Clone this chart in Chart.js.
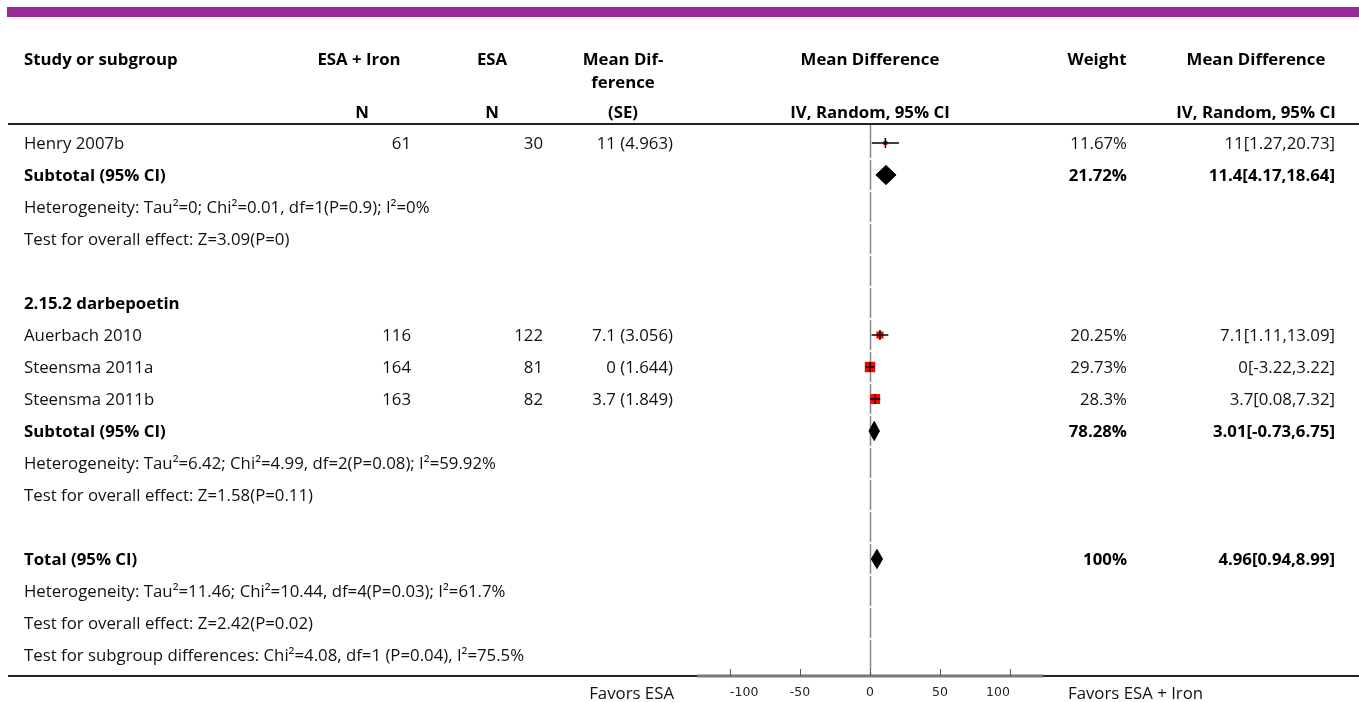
<!DOCTYPE html>
<html><head><meta charset="utf-8">
<script src="https://cdn.jsdelivr.net/npm/chart.js@4.4.1/dist/chart.umd.min.js"></script>
<style>
html,body{margin:0;padding:0;background:#fff;overflow:hidden;}
#wrap{position:relative;width:1359px;height:702px;overflow:hidden;background:#fff;}
#c{position:absolute;left:0;top:0;}
.t{position:absolute;font-family:"Open Sans","Noto Sans",sans-serif;font-size:16.8px;color:#111;white-space:nowrap;line-height:22px;height:22px;}
.b{font-weight:bold;color:#000;}
.r{text-align:right;}
.cx{text-align:center;}
</style></head><body>
<div id="wrap"><canvas id="c" width="1359" height="709"></canvas></div>
<script>
// ---------- DATA ----------
const rowLabels = [
  "Henry 2007b",
  "Subtotal (95% CI)",
  "Heterogeneity: Tau\u00b2=0; Chi\u00b2=0.01, df=1(P=0.9); I\u00b2=0%",
  "Test for overall effect: Z=3.09(P=0)",
  "",
  "2.15.2 darbepoetin",
  "Auerbach 2010",
  "Steensma 2011a",
  "Steensma 2011b",
  "Subtotal (95% CI)",
  "Heterogeneity: Tau\u00b2=6.42; Chi\u00b2=4.99, df=2(P=0.08); I\u00b2=59.92%",
  "Test for overall effect: Z=1.58(P=0.11)",
  "",
  "Total (95% CI)",
  "Heterogeneity: Tau\u00b2=11.46; Chi\u00b2=10.44, df=4(P=0.03); I\u00b2=61.7%",
  "Test for overall effect: Z=2.42(P=0.02)",
  "Test for subgroup differences: Chi\u00b2=4.08, df=1 (P=0.04), I\u00b2=75.5%"
];
const boldRows = [1, 5, 9, 13];

const studyRows   = [0, 6, 7, 8];
const studyNExp   = [61, 116, 164, 163];
const studyNCtl   = [30, 122, 81, 82];
const studyMD     = [11, 7.1, 0, 3.7];
const studySE     = [4.963, 3.056, 1.644, 1.849];
const studyLo     = [1.27, 1.11, -3.22, 0.08];
const studyHi     = [20.73, 13.09, 3.22, 7.32];
const studyWeight = [11.67, 20.25, 29.73, 28.3];

const pooledRows   = [1, 9, 13];
const pooledMD     = [11.4, 3.01, 4.96];
const pooledLo     = [4.17, -0.73, 0.94];
const pooledHi     = [18.64, 6.75, 8.99];
const pooledWeight = [21.72, 78.28, 100];

const xTicks = [-100, -50, 0, 50, 100];
const xMin = -123.6, xMax = 123.6;

// ---------- LAYOUT CONSTANTS ----------
const ROW0 = 143, ROWH = 32;
const wrap = document.getElementById('wrap');
function addText(txt, x, yc, cls, align) {
  const d = document.createElement('div');
  d.className = 't ' + (cls || '');
  d.textContent = txt;
  d.style.top = (yc - 11) + 'px';
  if (align === 'r') { d.style.left = (x - 400) + 'px'; d.style.width = '400px'; d.classList.add('r'); }
  else if (align === 'c') { d.style.left = (x - 200) + 'px'; d.style.width = '400px'; d.classList.add('cx'); }
  else { d.style.left = x + 'px'; }
  wrap.appendChild(d);
}
// headers
addText("Study or subgroup", 24, 59, 'b');
addText("ESA + Iron", 359, 59, 'b', 'c');
addText("N", 362, 112, 'b', 'c');
addText("ESA", 492, 59, 'b', 'c');
addText("N", 492, 112, 'b', 'c');
addText("Mean Dif-", 623, 59, 'b', 'c');
addText("ference", 623, 82, 'b', 'c');
addText("(SE)", 623, 112, 'b', 'c');
addText("Mean Difference", 870, 59, 'b', 'c');
addText("IV, Random, 95% CI", 870, 112, 'b', 'c');
addText("Weight", 1097, 59, 'b', 'c');
addText("Mean Difference", 1256, 59, 'b', 'c');
addText("IV, Random, 95% CI", 1256, 112, 'b', 'c');
// rows
rowLabels.forEach((s, i) => { if (s) addText(s, 24, ROW0 + ROWH * i, boldRows.includes(i) ? 'b' : ''); });
studyRows.forEach((r, k) => {
  const y = ROW0 + ROWH * r;
  addText(String(studyNExp[k]), 411, y, '', 'r');
  addText(String(studyNCtl[k]), 543, y, '', 'r');
  addText(studyMD[k] + " (" + studySE[k] + ")", 673, y, '', 'r');
  addText(studyWeight[k] + "%", 1127, y, '', 'r');
  addText(studyMD[k] + "[" + studyLo[k] + "," + studyHi[k] + "]", 1335, y, '', 'r');
});
pooledRows.forEach((r, k) => {
  const y = ROW0 + ROWH * r;
  addText(pooledWeight[k] + "%", 1127, y, 'b', 'r');
  addText(pooledMD[k] + "[" + pooledLo[k] + "," + pooledHi[k] + "]", 1335, y, 'b', 'r');
});
addText("Favors ESA", 674, 693, '', 'r');
addText("Favors ESA + Iron", 1068, 693, '');

// ---------- CHART ----------
const DIAMOND_HALF = 0.30; // rows
const datasets = [];
datasets.push({
  type: 'scatter', label: 'studies',
  data: studyRows.map((r, k) => ({ x: studyMD[k], y: r })),
  pointStyle: 'rect',
  pointRadius: studyWeight.map(w => (w * 0.35) / Math.SQRT2),
  backgroundColor: '#ff0000', borderWidth: 0, order: 3
});
studyRows.forEach((r, k) => {
  datasets.push({
    type: 'line', label: 'ci' + k,
    data: [{ x: studyLo[k], y: r }, { x: studyHi[k], y: r }],
    borderColor: '#000', borderWidth: 1.5, pointRadius: 0, fill: false, order: 2
  });
});
datasets.push({
  type: 'scatter', label: 'ticks',
  data: studyRows.map((r, k) => ({ x: studyMD[k], y: r })),
  pointStyle: 'line', rotation: 90, pointRadius: 5,
  borderColor: '#000', borderWidth: 1.5, order: 1
});
pooledRows.forEach((r, k) => {
  datasets.push({
    type: 'line', label: 'pooled' + k,
    data: [
      { x: pooledLo[k], y: r }, { x: pooledMD[k], y: r - DIAMOND_HALF },
      { x: pooledHi[k], y: r }, { x: pooledMD[k], y: r + DIAMOND_HALF },
      { x: pooledLo[k], y: r }
    ],
    borderColor: '#000', backgroundColor: '#000', borderWidth: 1,
    pointRadius: 0, fill: 'shape', tension: 0, order: 1
  });
});

const deco = {
  id: 'deco',
  beforeDatasetsDraw(chart) {
    const ctx = chart.ctx, xs = chart.scales.x, ys = chart.scales.y;
    const x0 = Math.round(xs.getPixelForValue(0)) + 0.5;
    ctx.save();
    ctx.strokeStyle = '#888'; ctx.lineWidth = 1.5;
    let top = chart.chartArea.top;
    for (let i = 0; i <= rowLabels.length; i++) {
      const b = i < rowLabels.length ? ys.getPixelForValue(i + 0.5) : chart.chartArea.bottom;
      ctx.beginPath(); ctx.moveTo(x0, top); ctx.lineTo(x0, Math.min(b - 1, chart.chartArea.bottom)); ctx.stroke();
      top = b + 1;
      if (top >= chart.chartArea.bottom) break;
    }
    ctx.restore();
  },
  afterDraw(chart) {
    const ctx = chart.ctx, xs = chart.scales.x, ca = chart.chartArea;
    ctx.save();
    ctx.fillStyle = '#9b2896';
    ctx.fillRect(7, 7, 1352, 10);
    ctx.fillStyle = '#222';
    ctx.fillRect(8, 123, 1351, 2);
    ctx.fillRect(8, ca.bottom - 1, xs.left - 8, 2);
    ctx.fillRect(xs.right, ca.bottom - 1, 1359 - xs.right, 2);
    ctx.fillStyle = '#777';
    ctx.fillRect(xs.left, ca.bottom - 1.5, xs.right - xs.left, 3);
    ctx.strokeStyle = '#555'; ctx.lineWidth = 1;
    xTicks.forEach(v => {
      const px = Math.round(xs.getPixelForValue(v)) + 0.5;
      ctx.beginPath(); ctx.moveTo(px, ca.bottom - 7); ctx.lineTo(px, ca.bottom); ctx.stroke();
    });
    ctx.restore();
  }
};

new Chart(document.getElementById('c'), {
  type: 'scatter',
  data: { datasets },
  options: {
    responsive: false, animation: false,
    layout: { padding: { left: 697, right: 316, top: 125, bottom: 0.4 } },
    plugins: { legend: { display: false }, tooltip: { enabled: false } },
    scales: {
      x: {
        type: 'linear', min: xMin, max: xMax, position: 'bottom',
        grid: { display: false, drawTicks: false },
        border: { display: false },
        afterBuildTicks: s => { s.ticks = xTicks.map(v => ({ value: v })); },
        ticks: { padding: 8.5, align: 'inner', color: '#222', font: { family: 'DejaVu Sans', size: 12.5, lineHeight: 1.25 }, callback: v => String(v) }
      },
      y: {
        type: 'linear', reverse: true, display: false,
        min: -0.5625, max: rowLabels.length - 1 + 0.656
      }
    }
  },
  plugins: [deco]
});
</script>
</body></html>
